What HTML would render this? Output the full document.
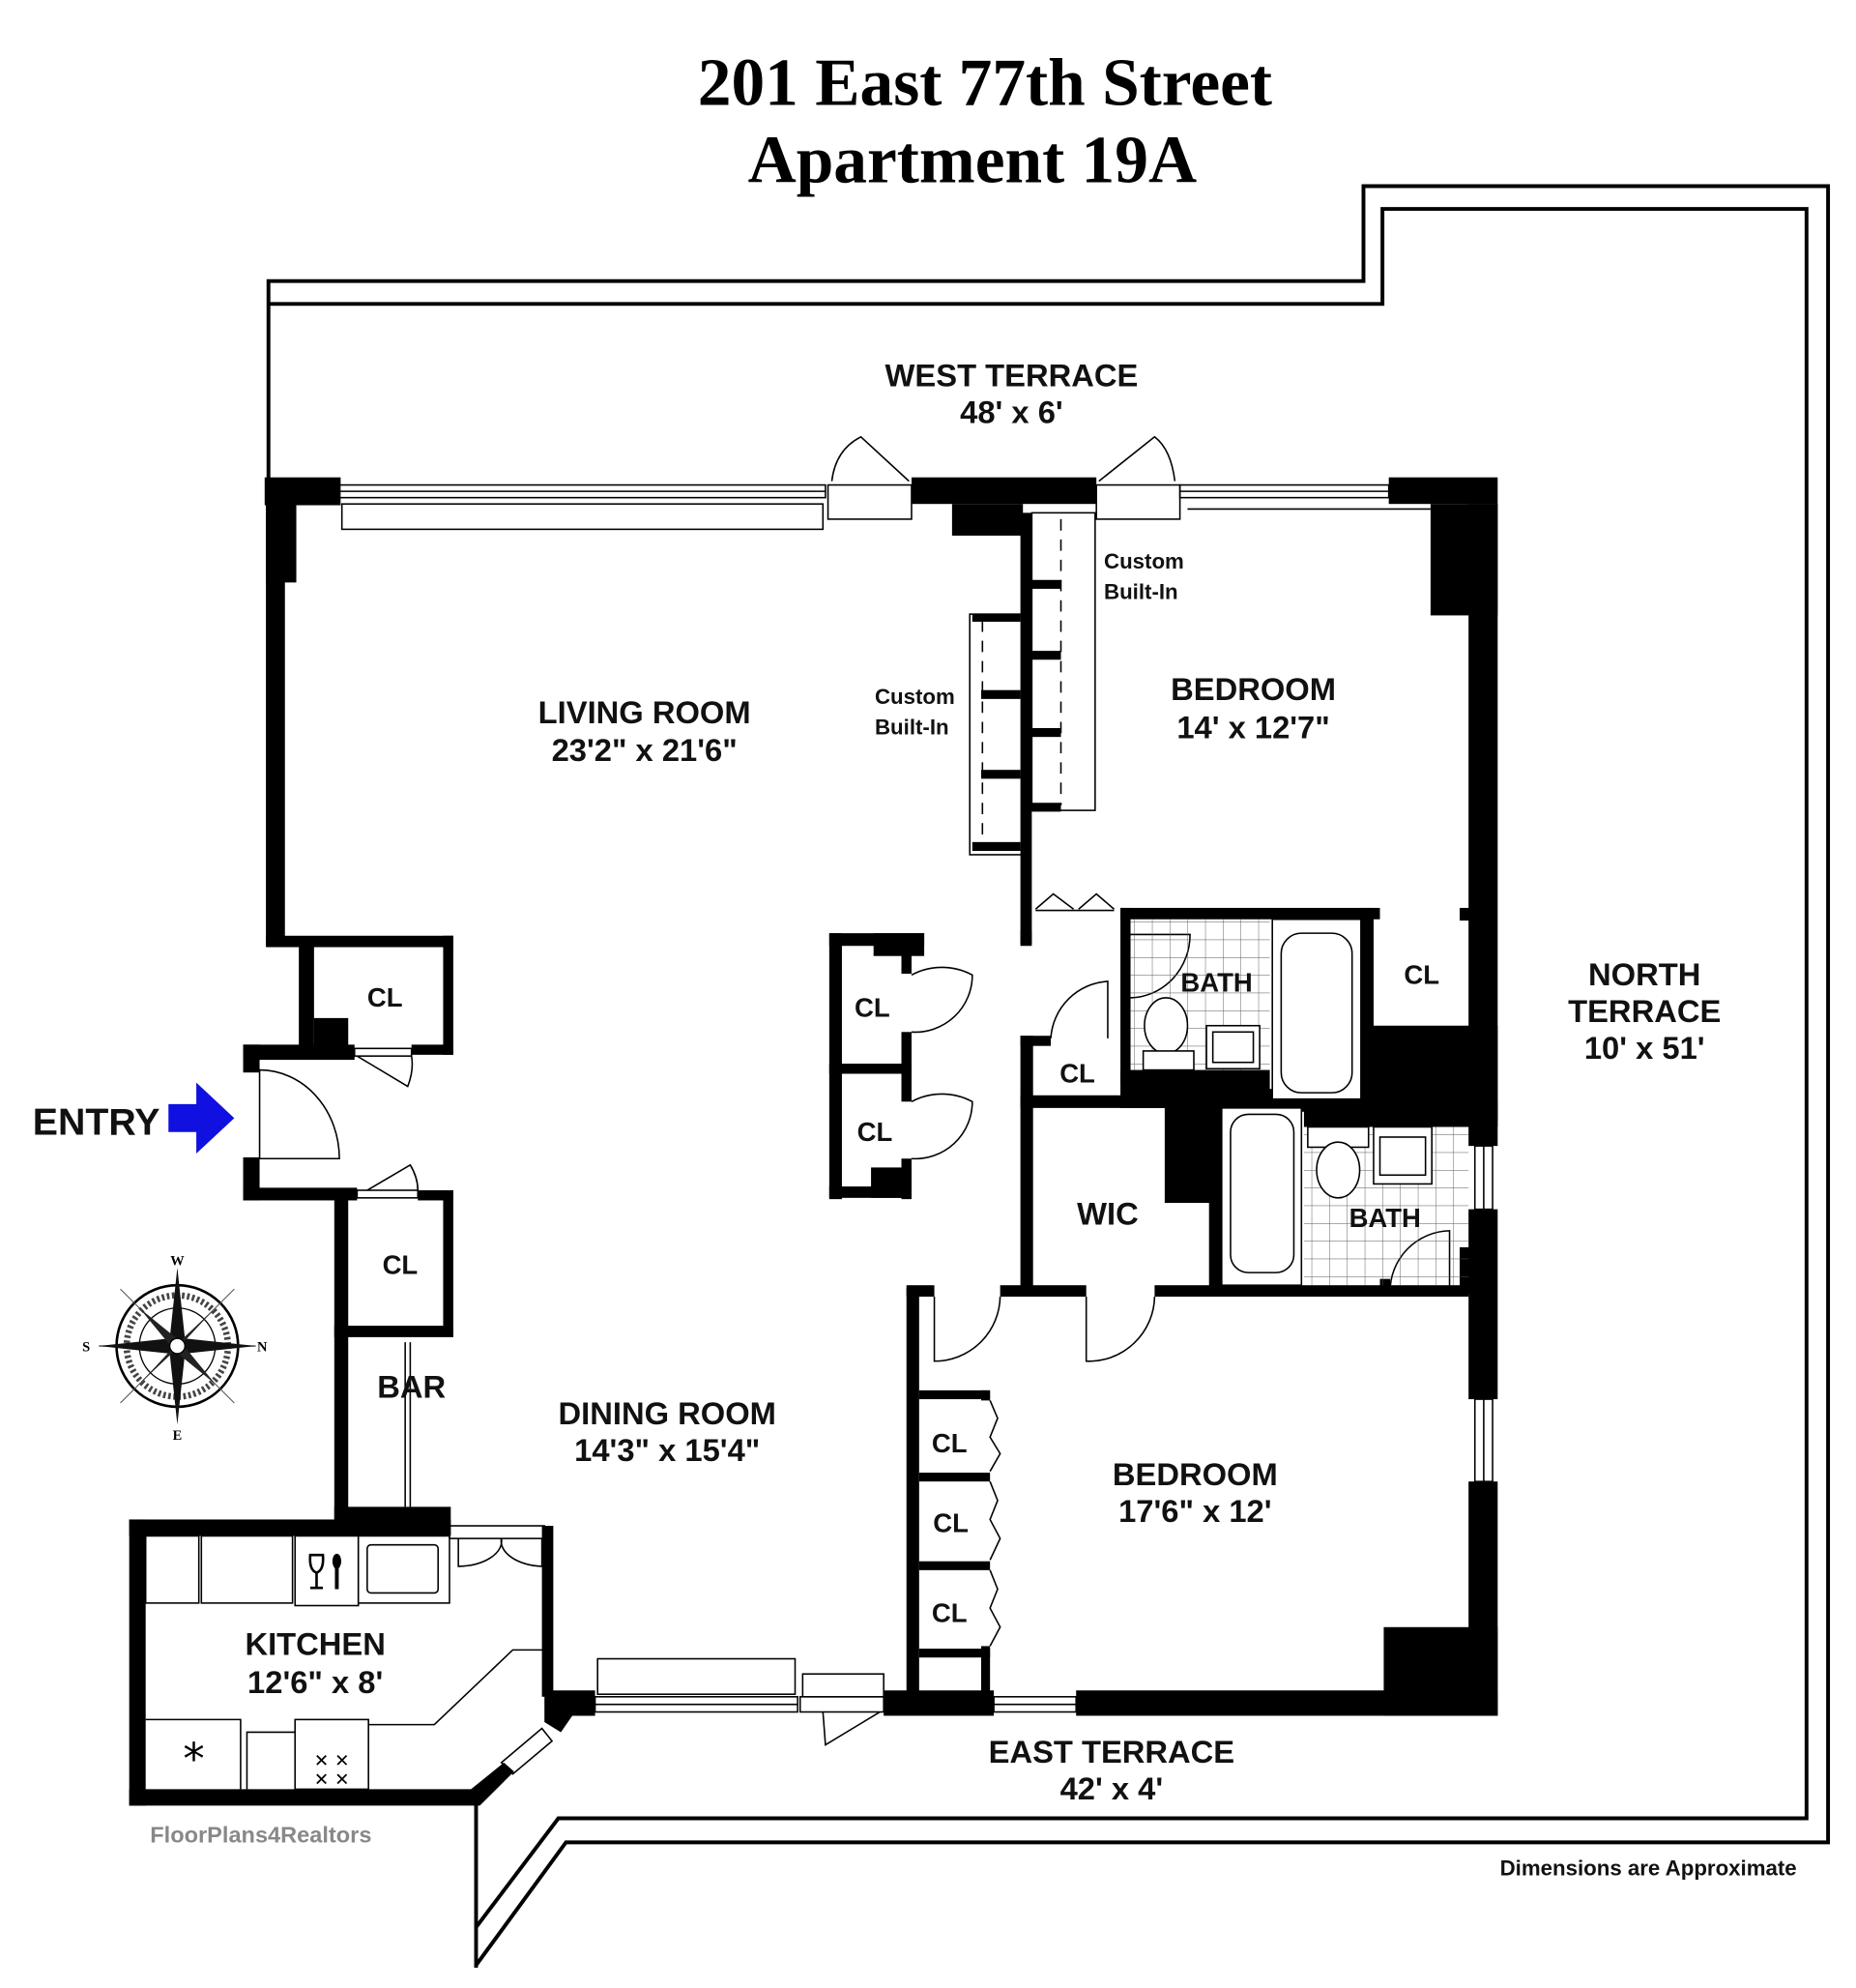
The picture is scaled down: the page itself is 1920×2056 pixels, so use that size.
<!DOCTYPE html>
<html><head><meta charset="utf-8"><style>
html,body{margin:0;padding:0;background:#fff;}
svg{display:block;}
.l{font-family:"Liberation Sans",sans-serif;font-weight:bold;fill:#111;text-anchor:middle;}
.s{font-family:"Liberation Sans",sans-serif;font-weight:bold;fill:#111;font-size:17px;}
.t{fill:none;stroke:#000;stroke-width:3;}
.n{fill:none;stroke:#000;stroke-width:1.2;}
.d{fill:none;stroke:#000;stroke-width:1.2;stroke-dasharray:9 7;}
</style></head><body>
<svg width="1920" height="2056" viewBox="0 0 1466 1570" xmlns="http://www.w3.org/2000/svg">
<rect width="1466" height="1570" fill="#fff"/>
<text x="778" y="83" font-family="Liberation Serif,serif" font-weight="bold" font-size="53" text-anchor="middle">201 East 77th Street</text>
<text x="768" y="144" font-family="Liberation Serif,serif" font-weight="bold" font-size="53" text-anchor="middle">Apartment 19A</text>

<polyline class="t" points="212,378 212,222 1077,222 1077,147 1444,147 1444,1455 447,1455 376,1552"/>
<polyline class="t" points="212,240 1092,240 1092,165 1427,165 1427,1436 441,1436 376,1522"/>
<line class="t" x1="376" y1="1425" x2="376" y2="1554"/>

<g fill="#000">
<rect x="209" y="377" width="60" height="22"/>
<rect x="720" y="377" width="146" height="21"/>
<rect x="752" y="398" width="56" height="25"/>
<rect x="1097" y="377" width="86" height="21"/>
<rect x="1130" y="398" width="53" height="88"/>
<rect x="1160" y="398" width="23" height="507"/>
<rect x="1160" y="955" width="23" height="150"/>
<rect x="1160" y="1170" width="23" height="185"/>
<rect x="210" y="398" width="15" height="348"/>
<rect x="210" y="398" width="24" height="62"/>
<rect x="210" y="739" width="148" height="9"/>
<rect x="350" y="739" width="8" height="94"/>
<rect x="236" y="746" width="12" height="86"/>
<rect x="248" y="804" width="27" height="28"/>
<rect x="192" y="825" width="88" height="12"/>
<rect x="325" y="825" width="33" height="8"/>
<rect x="192" y="825" width="13" height="22"/>
<rect x="192" y="914" width="13" height="34"/>
<rect x="192" y="938" width="90" height="10"/>
<rect x="330" y="940" width="28" height="8"/>
<rect x="264" y="940" width="11" height="262"/>
<rect x="350" y="940" width="8" height="115"/>
<rect x="264" y="1047" width="94" height="9"/>
<rect x="264" y="1190" width="92" height="22"/>
<rect x="102" y="1200" width="254" height="13"/>
<rect x="102" y="1200" width="13" height="226"/>
<polygon points="102,1413 372,1413 398,1392 406,1399 379,1426 102,1426"/>
<rect x="428" y="1205" width="9" height="135"/>
<polygon points="430,1335 470,1335 470,1355 452,1355 443,1368 430,1360"/>
<rect x="698" y="1335" width="87" height="20"/>
<rect x="850" y="1335" width="333" height="20"/>
<rect x="1093" y="1285" width="90" height="70"/>
<rect x="716" y="1017" width="10" height="325"/>
<rect x="716" y="1015" width="22" height="9"/>
<rect x="790" y="1015" width="68" height="9"/>
<rect x="912" y="1015" width="248" height="9"/>
<rect x="726" y="1098" width="56" height="7"/>
<rect x="726" y="1163" width="56" height="7"/>
<rect x="726" y="1233" width="56" height="7"/>
<rect x="726" y="1302" width="56" height="7"/>
<rect x="775" y="1098" width="7" height="8"/>
<rect x="775" y="1300" width="7" height="40"/>
<rect x="806" y="405" width="9" height="340"/>
<rect x="808" y="458" width="30" height="7"/>
<rect x="808" y="514" width="30" height="7"/>
<rect x="808" y="575" width="30" height="7"/>
<rect x="808" y="634" width="30" height="7"/>
<rect x="768" y="485" width="38" height="6"/>
<rect x="775" y="545" width="31" height="7"/>
<rect x="775" y="608" width="31" height="7"/>
<rect x="768" y="665" width="38" height="7"/>
<rect x="655" y="737" width="75" height="10"/>
<rect x="690" y="737" width="40" height="18"/>
<rect x="655" y="737" width="10" height="210"/>
<rect x="655" y="840" width="65" height="8"/>
<rect x="655" y="937" width="65" height="9"/>
<rect x="688" y="922" width="32" height="24"/>
<rect x="712" y="747" width="8" height="22"/>
<rect x="712" y="815" width="8" height="55"/>
<rect x="712" y="915" width="8" height="32"/>
<rect x="806" y="818" width="10" height="205"/>
<rect x="806" y="818" width="24" height="8"/>
<rect x="806" y="865" width="116" height="10"/>
<rect x="885" y="717" width="8" height="140"/>
<rect x="885" y="717" width="205" height="9"/>
<rect x="885" y="845" width="118" height="30"/>
<rect x="920" y="865" width="45" height="85"/>
<rect x="955" y="865" width="10" height="157"/>
<rect x="1000" y="860" width="35" height="18"/>
<rect x="1075" y="717" width="10" height="100"/>
<rect x="1075" y="810" width="108" height="75"/>
<rect x="1030" y="868" width="153" height="22"/>
<rect x="1153" y="717" width="10" height="10"/>
<rect x="1090" y="1010" width="8" height="12"/>
<rect x="1153" y="985" width="10" height="37"/>
<rect x="806" y="735" width="9" height="12"/>
</g>

<g class="n">
<rect x="268" y="383" width="384" height="10"/><line x1="268" y1="388" x2="652" y2="388"/>
<rect x="270" y="398" width="380" height="20"/>
<rect x="932" y="383" width="165" height="10"/><line x1="932" y1="388" x2="1097" y2="388"/>
<line x1="938" y1="402" x2="1130" y2="402"/>
<rect x="1165" y="905" width="14" height="50"/><line x1="1172" y1="905" x2="1172" y2="955"/>
<rect x="1165" y="1105" width="14" height="65"/><line x1="1172" y1="1105" x2="1172" y2="1170"/>
<rect x="470" y="1340" width="160" height="12"/><line x1="470" y1="1346" x2="630" y2="1346"/>
<rect x="472" y="1310" width="156" height="28"/>
<rect x="785" y="1340" width="65" height="12"/><line x1="785" y1="1346" x2="850" y2="1346"/>
<rect x="634" y="1322" width="64" height="18"/>
<rect x="632" y="1340" width="66" height="12"/>
<polygon points="396,1392 428,1365 436,1375 405,1401"/>
<rect x="654" y="383" width="66" height="27"/>
<path d="M657,380 Q660,355 680,345 L718,380"/>
<rect x="866" y="383" width="66" height="27"/>
<path d="M928,380 Q925,355 912,345 L868,380"/>
<path d="M650,1352 L652,1378 L695,1352"/>
<rect x="815" y="405" width="50" height="235"/>
<rect x="766" y="485" width="42" height="190"/>
</g>
<line class="d" x1="838" y1="410" x2="838" y2="636"/>
<line class="d" x1="776" y1="490" x2="776" y2="668"/>

<g class="n">
<path d="M205,845 L205,915 L268,915 A63,70 0 0 0 205,845"/>
<rect x="280" y="828" width="45" height="6" />
<path d="M282,834 L322,858 Q327,845 325,834"/>
<rect x="282" y="940" width="48" height="6"/>
<path d="M290,940 L324,920 Q330,930 330,940"/>
<path d="M720,770 A48,45 0 0 1 768,770 A45,45 0 0 1 720,815"/>
<path d="M720,870 A48,45 0 0 1 768,870 A45,45 0 0 1 720,915"/>
<path d="M818,718 L832,706 L848,718 M852,718 L866,706 L880,718"/>
<line x1="818" y1="719" x2="880" y2="719"/>
<path d="M830,820 A48,48 0 0 1 875,775 L875,820"/>
<path d="M893,738 L940,738 A48,50 0 0 1 893,788"/>
<path d="M738,1024 L738,1075 A52,52 0 0 0 790,1024"/>
<path d="M858,1024 L858,1075 A52,52 0 0 0 912,1024"/>
<path d="M1098,1020 A48,48 0 0 1 1145,972 L1145,1020"/>
<path d="M782,1106 L788,1120 L782,1135 L790,1148 L782,1162"/>
<path d="M782,1170 L788,1185 L782,1200 L790,1215 L782,1232"/>
<path d="M782,1240 L788,1255 L782,1270 L790,1285 L782,1300"/>
<line x1="320" y1="1060" x2="320" y2="1190"/><line x1="324" y1="1060" x2="324" y2="1190"/>
<rect x="355" y="1205" width="75" height="10"/>
<path d="M362,1215 L362,1237 A35,20 0 0 0 396,1215 A35,20 0 0 0 428,1237 L428,1215"/>
</g>

<defs>
<pattern id="tile" width="14" height="14" patternUnits="userSpaceOnUse">
<path d="M14,0 L0,0 0,14" fill="none" stroke="#555" stroke-width="0.7"/>
</pattern>
</defs>
<rect x="893" y="726" width="110" height="119" fill="url(#tile)"/>
<rect x="1030" y="890" width="130" height="125" fill="url(#tile)"/>
<g class="n" fill="#fff">
<rect x="1005" y="726" width="70" height="142" fill="#fff"/>
<rect x="1012" y="737" width="56" height="126" rx="16" fill="#fff"/>
<rect x="965" y="875" width="63" height="140" fill="#fff"/>
<rect x="972" y="880" width="50" height="125" rx="14" fill="#fff"/>
<ellipse cx="921" cy="810" rx="17" ry="22" fill="#fff"/>
<rect x="903" y="830" width="40" height="15" fill="#fff"/>
<rect x="953" y="810" width="42" height="34" fill="#fff"/>
<rect x="958" y="815" width="32" height="24" fill="#fff"/>
<rect x="1033" y="890" width="48" height="16" fill="#fff"/>
<ellipse cx="1057" cy="924" rx="17" ry="22" fill="#fff"/>
<rect x="1085" y="890" width="46" height="45" fill="#fff"/>
<rect x="1090" y="898" width="36" height="30" fill="#fff"/>
</g>

<g class="n" fill="#fff">
<rect x="115" y="1213" width="42" height="53"/>
<rect x="159" y="1213" width="72" height="53"/>
<rect x="233" y="1213" width="50" height="55"/>
<rect x="283" y="1213" width="72" height="53"/>
<rect x="290" y="1220" width="56" height="38" rx="3"/>
<polyline points="115,1358 190,1358 190,1413"/>
<polyline points="195,1413 195,1368 233,1368"/>
<rect x="233" y="1358" width="58" height="55"/>
<polyline points="291,1362 343,1362 405,1303 430,1303"/>
</g>
<g stroke="#000" stroke-width="2" fill="none">
<path d="M245,1228 L255,1228 Q256,1240 250,1242 Q244,1240 245,1228 Z"/>
<line x1="250" y1="1242" x2="250" y2="1254"/><line x1="245" y1="1254" x2="255" y2="1254"/>
<line x1="266" y1="1236" x2="266" y2="1255" stroke-width="3"/>
</g>
<ellipse cx="266" cy="1233" rx="3.5" ry="6" fill="#000"/>
<text x="153" y="1401" font-size="34" text-anchor="middle" font-family="DejaVu Sans,sans-serif">*</text>
<text x="262" y="1395" font-size="14" text-anchor="middle" font-family="DejaVu Sans,sans-serif">✕ ✕</text>
<text x="262" y="1410" font-size="14" text-anchor="middle" font-family="DejaVu Sans,sans-serif">✕ ✕</text>

<g transform="translate(140,1063)">
<circle r="48" fill="none" stroke="#000" stroke-width="2"/>
<circle r="40" fill="none" stroke="#444" stroke-width="5" stroke-dasharray="2 2"/>
<circle r="30" fill="none" stroke="#000" stroke-width="1"/>
<line x1="-62" y1="0" x2="62" y2="0" stroke="#555" stroke-width="1"/>
<line x1="-45" y1="-45" x2="45" y2="45" stroke="#555" stroke-width="0.8"/>
<line x1="45" y1="-45" x2="-45" y2="45" stroke="#555" stroke-width="0.8"/>
<polygon points="0,-62 6,-6 62,0 6,6 0,62 -6,6 -62,0 -6,-6" fill="#111"/>
<polygon points="30,-30 4,-2 -30,30 -4,2" fill="#222"/>
<polygon points="-30,-30 -2,4 30,30 2,-4" fill="#222"/>
<circle r="6" fill="#fff" stroke="#000"/>
<text x="0" y="-64" font-size="11" font-family="Liberation Serif,serif" font-weight="bold" text-anchor="middle">W</text>
<text x="0" y="74" font-size="11" font-family="Liberation Serif,serif" font-weight="bold" text-anchor="middle">E</text>
<text x="-72" y="4" font-size="11" font-family="Liberation Serif,serif" font-weight="bold" text-anchor="middle">S</text>
<text x="67" y="4" font-size="11" font-family="Liberation Serif,serif" font-weight="bold" text-anchor="middle">N</text>
</g>

<polygon points="133,872 155,872 155,855 185,883 155,911 155,894 133,894" fill="#1010e0"/>

<g class="l" font-size="25">
<text x="799" y="305">WEST TERRACE</text>
<text x="799" y="334">48' x 6'</text>
<text x="509" y="571">LIVING ROOM</text>
<text x="509" y="601">23'2" x 21'6"</text>
<text x="990" y="553">BEDROOM</text>
<text x="990" y="583">14' x 12'7"</text>
<text x="1299" y="778">NORTH</text>
<text x="1299" y="807">TERRACE</text>
<text x="1299" y="836">10' x 51'</text>
<text x="527" y="1125">DINING ROOM</text>
<text x="527" y="1154">14'3" x 15'4"</text>
<text x="944" y="1173">BEDROOM</text>
<text x="944" y="1202">17'6" x 12'</text>
<text x="249" y="1307">KITCHEN</text>
<text x="249" y="1337">12'6" x 8'</text>
<text x="878" y="1392">EAST TERRACE</text>
<text x="878" y="1421">42' x 4'</text>
<text x="325" y="1104">BAR</text>
<text x="961" y="783" font-size="21">BATH</text>
<text x="1094" y="969" font-size="21">BATH</text>
<text x="875" y="967">WIC</text>
<text x="76" y="896" font-size="30">ENTRY</text>
</g>
<g class="l" font-size="21">
<text x="304" y="795">CL</text>
<text x="689" y="803">CL</text>
<text x="691" y="901">CL</text>
<text x="316" y="1006">CL</text>
<text x="1123" y="777">CL</text>
<text x="851" y="855">CL</text>
<text x="750" y="1147">CL</text>
<text x="751" y="1210">CL</text>
<text x="750" y="1281">CL</text>
</g>
<text class="s" x="872" y="449">Custom</text>
<text class="s" x="872" y="473">Built-In</text>
<text class="s" x="691" y="556">Custom</text>
<text class="s" x="691" y="580">Built-In</text>
<text x="206" y="1455" font-family="Liberation Sans,sans-serif" font-weight="bold" font-size="18" fill="#888" text-anchor="middle">FloorPlans4Realtors</text>
<text x="1302" y="1481" font-family="Liberation Sans,sans-serif" font-weight="bold" font-size="17" fill="#111" text-anchor="middle">Dimensions are Approximate</text>
</svg>
</body></html>
